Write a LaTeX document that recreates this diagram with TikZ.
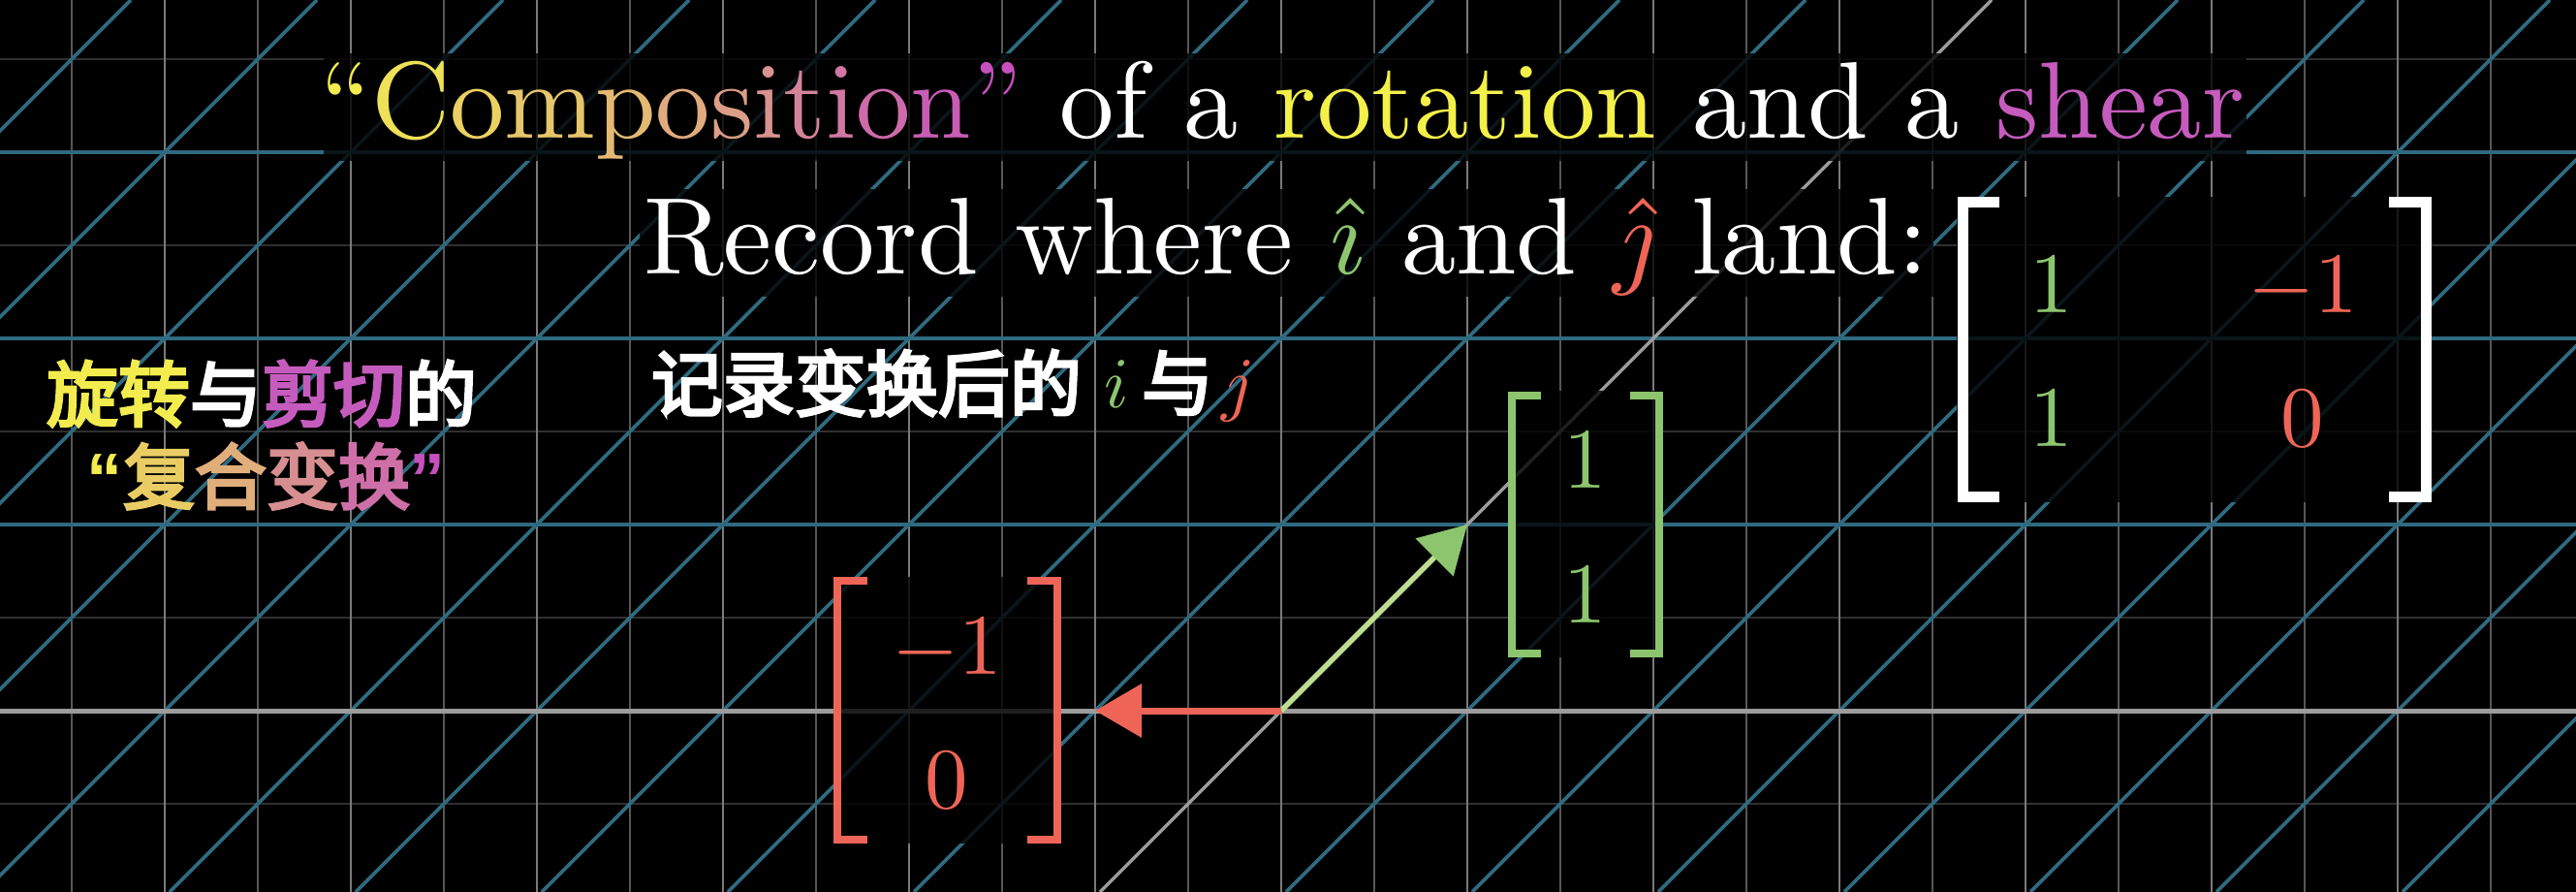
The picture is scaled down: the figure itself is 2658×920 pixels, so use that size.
\documentclass[tikz,border=0pt]{standalone}
\usepackage{fontspec}
\usepackage{graphicx}
\usetikzlibrary{arrows.meta}
\newfontfamily\cjk[FakeBold=4]{Noto Sans CJK SC}
\newfontfamily\qfont{Liberation Sans}
\definecolor{cy}{HTML}{F2EC4E}
\definecolor{cp}{HTML}{C650BE}
\definecolor{ig}{HTML}{8CC56E}
\definecolor{ishaft}{HTML}{BEDD90}
\definecolor{jr}{HTML}{EE6557}
\definecolor{gblue}{HTML}{2F6A80}
\definecolor{gmaj}{HTML}{7A7A7A}
\definecolor{gmin}{HTML}{575757}
\definecolor{ghor}{HTML}{303030}
\definecolor{gaxis}{HTML}{9C9C9C}
\definecolor{rotY}{HTML}{F4F04A}
\definecolor{shP}{HTML}{C65BBE}
\tikzset{
  bgrect/.style={fill=black, fill opacity=0.8},
  lbl/.style={inner sep=0pt, outer sep=0pt, text=white},
  brk/.style={line width=1.6pt, line cap=butt, line join=miter},
  cjkfont/.style={font=\cjk\fontsize{14.8}{17}\selectfont},
}
\begin{document}
\begin{tikzpicture}[x=0.2pt,y=-0.2pt]
\useasboundingbox (0,0) rectangle (2658,920);
\fill[black] (0,0) rectangle (2658,920);
\begin{scope}
  \clip (0,0) rectangle (2658,920);
  % faint horizontal lines
  \foreach \yy in {61,253,445,637,829}
    \draw[ghor, line width=0.5pt] (0,\yy) -- (2658,\yy);
  % vertical lines
  \foreach \k in {-7,...,6}
    \draw[gmin, line width=0.45pt] ({1322+192*\k+96},0) -- ({1322+192*\k+96},920);
  \foreach \k in {-6,...,6}
    \draw[gmaj, line width=0.5pt] ({1322+192*\k},0) -- ({1322+192*\k},920);
  % transformed grid: horizontal lines
  \foreach \yy in {157,349,541}
    \draw[gblue, line width=0.9pt] (0,\yy) -- (2658,\yy);
  % transformed grid: diagonals
  \foreach \k in {-10,...,-1,1,2,...,7}
    \draw[gblue, line width=0.75pt] ({1322+192*\k-187},920) -- ({1322+192*\k+733},0);
  % axes
  \draw[gaxis, line width=1pt] (0,733) -- (2658,733);
  \draw[gaxis, line width=0.7pt] (1135,920) -- (2055,0);
\end{scope}

% background rectangles behind texts
\fill[bgrect] (334,55) rectangle (2318,166);
\fill[bgrect] (660,195) rectangle (1995,306);
\fill[bgrect] (2019,203) rectangle (2509,518);
\fill[bgrect] (860,595) rectangle (1095,870);
\fill[bgrect] (1556,403) rectangle (1716,678);

% vectors
\coordinate (O) at (1322,733);
\coordinate (itip) at (1514,541);
\coordinate (jtip) at (1130,733);
\draw[line width=1.1pt, ishaft, -{Triangle[length=9.6pt,width=10.8pt,color=ig]}] (O) -- (itip);
\draw[line width=1.4pt, jr, -{Triangle[length=9.6pt,width=10.8pt]}] (O) -- (jtip);

% title
\node[lbl, anchor=base west] (title) at (330,142) {\scalebox{2.25}{%
\textcolor{cp!0!cy}{“}\textcolor{cp!8!cy}{C}\textcolor{cp!17!cy}{o}\textcolor{cp!25!cy}{m}\textcolor{cp!33!cy}{p}\textcolor{cp!42!cy}{o}\textcolor{cp!50!cy}{s}\textcolor{cp!58!cy}{i}\textcolor{cp!67!cy}{t}\textcolor{cp!75!cy}{i}\textcolor{cp!83!cy}{o}\textcolor{cp!92!cy}{n}\textcolor{cp!100!cy}{”}
of a \textcolor{rotY}{rotation} and a \textcolor{shP}{shear}}};

% record line
\node[lbl, anchor=base west] (record) at (664,283) {\scalebox{2.25}{Record where $\textcolor{ig}{\hat{\imath}}$ and $\textcolor{jr}{\hat{\jmath}}$ land:}};

% big matrix
\draw[brk, white, line width=2.2pt] (2063,208.5) -- (2025,208.5) -- (2025,512.5) -- (2063,512.5);
\draw[brk, white, line width=2.2pt] (2465,208.5) -- (2503.5,208.5) -- (2503.5,512.5) -- (2465,512.5);
\node[lbl, anchor=base, text=ig] (m11) at (2117,322) {\scalebox{1.78}{$1$}};
\node[lbl, anchor=base, text=ig] (m21) at (2117,460) {\scalebox{1.78}{$1$}};
\node[lbl, anchor=base, text=jr] (m12) at (2376,322) {\scalebox{1.78}{$-1$}};
\node[lbl, anchor=base, text=jr] (m22) at (2376,460) {\scalebox{1.78}{$0$}};

% green vector matrix
\draw[brk, ig] (1590,407.5) -- (1560,407.5) -- (1560,673.5) -- (1590,673.5);
\draw[brk, ig] (1682,407.5) -- (1712,407.5) -- (1712,673.5) -- (1682,673.5);
\node[lbl, anchor=base, text=ig] (g1) at (1636,503) {\scalebox{1.78}{$1$}};
\node[lbl, anchor=base, text=ig] (g2) at (1636,642) {\scalebox{1.78}{$1$}};

% red vector matrix
\draw[brk, jr] (895,599) -- (864,599) -- (864,866) -- (895,866);
\draw[brk, jr] (1060,599) -- (1091,599) -- (1091,866) -- (1060,866);
\node[lbl, anchor=base, text=jr] (r1) at (977,695) {\scalebox{1.78}{$-1$}};
\node[lbl, anchor=base, text=jr] (r2) at (977,833) {\scalebox{1.78}{$0$}};

% Chinese subtitles
\node[lbl, cjkfont] (cn1) at (270,406) {\textcolor{cy}{旋转}与\textcolor{shP}{剪切}的};
\node[lbl, cjkfont] (cn2) at (275,491) {\textcolor{cp!0!cy}{\qfont\bfseries “}\textcolor{cp!20!cy}{复}\textcolor{cp!40!cy}{合}\textcolor{cp!60!cy}{变}\textcolor{cp!80!cy}{换}\textcolor{cp!100!cy}{\qfont\bfseries ”}};
\node[lbl, cjkfont, anchor=west] (cn3) at (672,395) {记录变换后的};
\node[lbl, anchor=base] (ci) at (1152,420) {\scalebox{1.48}{$\textcolor{ig}{i}$}};
\node[lbl, cjkfont] (cyu) at (1215,395) {与};
\node[lbl, anchor=base] (cj) at (1278,420) {\scalebox{1.48}{$\textcolor{jr}{j}$}};
\end{tikzpicture}
\end{document}
